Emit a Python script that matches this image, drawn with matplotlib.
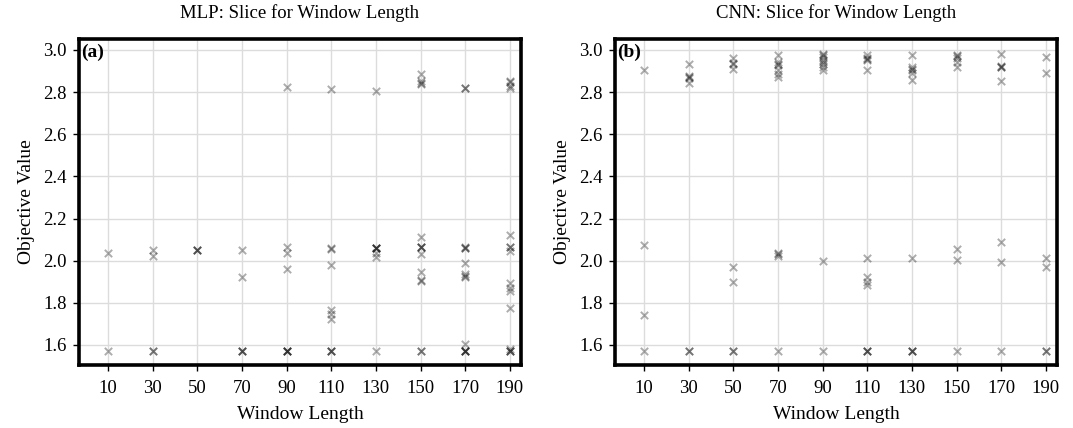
import matplotlib
matplotlib.use("Agg")
import matplotlib.pyplot as plt

# ---- data ----
window_ticks = [10, 30, 50, 70, 90, 110, 130, 150, 170, 190]

mlp_window = ([10]*2 + [30]*4 + [50]*3 + [70]*5 + [90]*8 + [110]*10 +
              [130]*8 + [150]*14 + [170]*14 + [190]*16)
mlp_value = [
    2.037, 1.570,
    2.051, 2.021, 1.570, 1.571,
    2.051, 2.052, 2.050,
    2.051, 1.922, 1.570, 1.571, 1.572,
    2.825, 2.064, 2.037, 1.960, 1.570, 1.571, 1.572, 1.570,
    2.817, 2.057, 2.058, 1.980, 1.765, 1.745, 1.725, 1.570, 1.571, 1.572,
    2.806, 2.060, 2.061, 2.059, 2.062, 2.037, 2.017, 1.570,
    2.884, 2.855, 2.845, 2.840, 2.111, 2.064, 2.063, 2.065, 2.030, 1.948, 1.905, 1.906, 1.570, 1.571,
    2.818, 2.819, 2.067, 2.060, 2.061, 1.987, 1.937, 1.924, 1.926, 1.606, 1.570, 1.571, 1.572, 1.570,
    2.855, 2.850, 2.830, 2.820, 2.122, 2.064, 2.065, 2.044, 1.892, 1.870, 1.854, 1.775, 1.580, 1.570, 1.571, 1.572,
]

cnn_window = ([10]*4 + [30]*7 + [50]*8 + [70]*11 + [90]*10 + [110]*12 +
              [130]*10 + [150]*8 + [170]*8 + [190]*6)
cnn_value = [
    2.905, 2.075, 1.743, 1.570,
    2.933, 2.878, 2.872, 2.868, 2.841, 1.570, 1.571,
    2.962, 2.940, 2.933, 2.910, 1.968, 1.901, 1.570, 1.571,
    2.975, 2.945, 2.935, 2.930, 2.905, 2.884, 2.870, 2.037, 2.030, 2.022, 1.570,
    2.980, 2.975, 2.965, 2.950, 2.945, 2.935, 2.920, 2.905, 2.000, 1.570,
    2.975, 2.960, 2.955, 2.950, 2.905, 2.011, 1.924, 1.900, 1.884, 1.570, 1.571, 1.572,
    2.975, 2.920, 2.910, 2.905, 2.890, 2.857, 2.011, 1.570, 1.571, 1.572,
    2.975, 2.970, 2.960, 2.945, 2.920, 2.054, 2.003, 1.570,
    2.980, 2.920, 2.918, 2.922, 2.855, 2.087, 1.995, 1.570,
    2.968, 2.892, 2.011, 1.971, 1.570, 1.571,
]

titles = ["MLP: Slice for Window Length", "CNN: Slice for Window Length"]
panel_labels = ["(a)", "(b)"]

plt.rcParams["font.family"] = ["Liberation Serif", "DejaVu Serif"]

fig = plt.figure(figsize=(10.73, 4.28), dpi=100)
W, H = 1073, 428
ax_left = [79, 615]
ax_w = 442
ax_bottom = (H - 365) / H
ax_h = 326 / H

series = [(mlp_window, mlp_value), (cnn_window, cnn_value)]
for i in range(2):
    ax = fig.add_axes([ax_left[i] / W, ax_bottom, ax_w / W, ax_h])
    xs, ys = series[i]
    ax.scatter(xs, ys, marker="x", s=28, color="black", alpha=0.32,
               linewidths=1.4, zorder=3)
    ax.set_xlim(-3, 195)
    ax.set_ylim(1.505, 3.052)
    ax.set_xticks(window_ticks)
    ax.set_xticklabels([str(t) for t in window_ticks])
    ax.set_yticks([1.6, 1.8, 2.0, 2.2, 2.4, 2.6, 2.8, 3.0])
    ax.grid(True, color="#dcdcdc", linewidth=1.0, zorder=0)
    ax.set_axisbelow(True)
    for sp in ax.spines.values():
        sp.set_linewidth(2.6)
        sp.set_color("black")
    ax.tick_params(axis="x", labelsize=13.5, length=4, width=1.0,
                   direction="out", pad=7)
    ax.tick_params(axis="y", labelsize=13.5, length=4, width=1.0,
                   direction="out", pad=5)
    ax.set_title(titles[i], fontsize=13.5, pad=15)
    ax.set_xlabel("Window Length", fontsize=14, labelpad=6)
    ax.set_ylabel("Objective Value", fontsize=14, labelpad=6)
    ax.text(0.004, 0.985, panel_labels[i], transform=ax.transAxes,
            fontsize=14, fontweight="bold", va="top", ha="left")

fig.savefig("out.png", dpi=100)
